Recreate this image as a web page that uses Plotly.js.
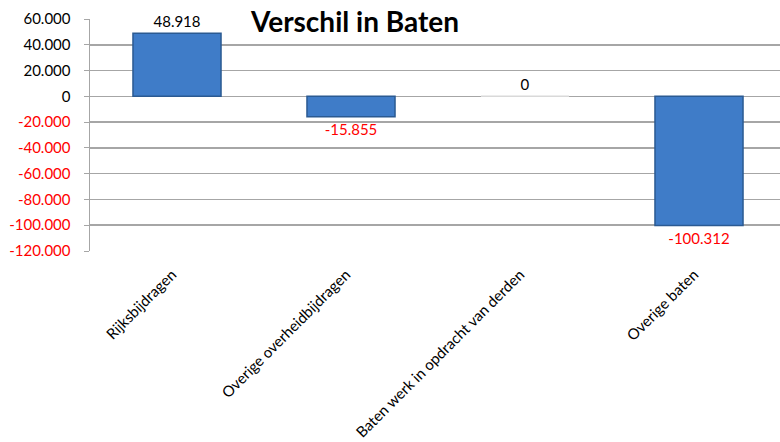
<!DOCTYPE html>
<html>
<head>
<meta charset="utf-8">
<script src="https://cdn.plot.ly/plotly-3.0.1.min.js"></script>
<style>html,body{margin:0;padding:0;background:#fff;overflow:hidden;}#wrap{width:780px;height:442px;overflow:hidden;}#chart{width:786px;height:442px;}</style>
</head>
<body>
<div id="wrap"><div id="chart"></div></div>
<script>
const categories = ["Rijksbijdragen", "Overige overheidbijdragen", "Baten werk in opdracht van derden", "Overige baten"];
const values = [48918, -15855, 0, -100312];
const labelTexts = ["48.918", "-15.855", "0", "-100.312"];
const tickValues = [60000, 40000, 20000, 0, -20000, -40000, -60000, -80000, -100000, -120000];
const tickLabels = ["60.000", "40.000", "20.000", "0", "-20.000", "-40.000", "-60.000", "-80.000", "-100.000", "-120.000"];

const FONT = "Lato, 'Open Sans', sans-serif";
const red = "#ff0000";

const trace = {
  type: "bar",
  x: categories,
  y: values,
  text: labelTexts,
  textposition: "outside",
  cliponaxis: false,
  textfont: {family: FONT, size: 15, color: values.map(v => v < 0 ? red : "#000000")},
  marker: {
    color: "#3f7cc8",
    line: {color: values.map(v => v === 0 ? "#d9d9d9" : "#2b5a92"), width: 1.5}
  },
  hoverinfo: "none"
};

const layout = {
  width: 786, height: 442,
  margin: {l: 90, r: 0, t: 19, b: 191},
  paper_bgcolor: "#ffffff",
  plot_bgcolor: "#ffffff",
  separators: ",.",
  bargap: 0.494,
  showlegend: false,
  font: {family: FONT, size: 14, color: "#000"},
  title: {
    text: "<b>Verschil in Baten</b>",
    font: {family: FONT, size: 28, color: "#000"},
    x: 355 / 786, xanchor: "center",
    y: 1 - 22 / 442, yanchor: "middle", yref: "container"
  },
  xaxis: {
    type: "category",
    tickangle: -45,
    showgrid: false,
    showline: false,
    ticks: "",
    ticklabelstandoff: 11,
    ticklabelshift: -5,
    tickfont: {family: FONT, size: 15, color: "#000"},
    automargin: false
  },
  yaxis: {
    range: [-120000, 60000],
    tickmode: "array",
    tickvals: tickValues,
    ticktext: tickLabels.map((t, i) => tickValues[i] < 0 ? '<span style="color:' + red + '">' + t + '</span>' : t),
    showgrid: true,
    gridcolor: "#a6a6a6",
    gridwidth: 1.5,
    zeroline: false,
    showline: true,
    linecolor: "#a6a6a6",
    linewidth: 1.5,
    ticks: "outside",
    ticklen: 5,
    tickcolor: "#a6a6a6",
    ticklabelstandoff: 10,
    tickfont: {family: FONT, size: 15, color: "#000"},
    automargin: false
  }
};

Plotly.newPlot("chart", [trace], layout, {displayModeBar: false, staticPlot: true});
</script>
</body>
</html>
